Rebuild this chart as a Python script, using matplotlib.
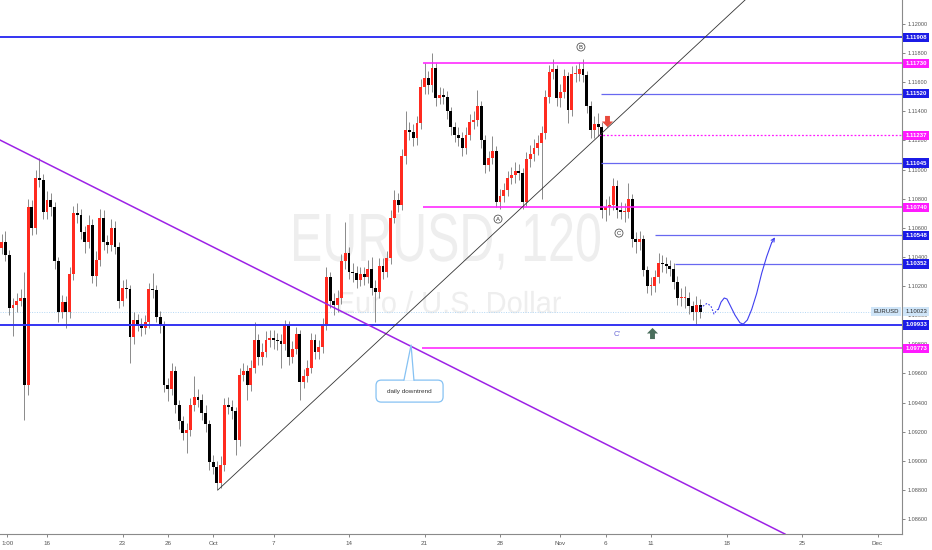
import matplotlib
matplotlib.use('Agg')
import matplotlib.pyplot as plt
import matplotlib.transforms as mtransforms
from matplotlib.patches import Rectangle, Polygon, FancyBboxPatch, PathPatch
from matplotlib.textpath import TextPath
from matplotlib.font_manager import FontProperties
from matplotlib.path import Path
from matplotlib.transforms import Affine2D

plt.rcParams['font.family'] = ['Liberation Sans', 'DejaVu Sans']

# ---------------- data (EURUSD, 120) ----------------
first_open = 1.1046
closes = [
    1.1050, 1.1041, 1.1005, 1.1007, 1.1010, 1.1012, 1.0952, 1.1074, 1.1060, 1.1094,
    1.1093, 1.1071, 1.1079, 1.1074, 1.1037, 1.1002, 1.1009, 1.1002, 1.1028, 1.1070,
    1.1069, 1.1057, 1.1050, 1.1062, 1.1027, 1.1038, 1.1067, 1.1050, 1.1048, 1.1060,
    1.1047, 1.1010, 1.1019, 1.1018, 1.0985, 1.0997, 1.0994, 1.0991, 1.0995, 1.1018,
    1.1017, 1.0999, 1.0993, 1.0952, 1.0949, 1.0962, 1.0938, 1.0927, 1.0919, 1.0921,
    1.0938, 1.0944, 1.0942, 1.0933, 1.0925, 1.0899, 1.0896, 1.0885, 1.0897, 1.0938,
    1.0937, 1.0934, 1.0914, 1.0959, 1.0962, 1.0952, 1.0964, 1.0983, 1.0971, 1.0975,
    1.0983, 1.0984, 1.0983, 1.0982, 1.0980, 1.0993, 1.0971, 1.0977, 1.0987, 1.0954,
    1.0958, 1.0964, 1.0983, 1.0975, 1.0978, 1.0993, 1.1026, 1.1010, 1.1007, 1.1012,
    1.1037, 1.1043, 1.1030, 1.1029, 1.1024, 1.1028, 1.1026, 1.1032, 1.1019, 1.1016,
    1.1034, 1.1030, 1.1039, 1.1067, 1.1079, 1.1076, 1.1109, 1.1127, 1.1126, 1.1122,
    1.1132, 1.1157, 1.1163, 1.1158, 1.1170, 1.1149, 1.1151, 1.1150, 1.1140, 1.1129,
    1.1124, 1.1122, 1.1115, 1.1124, 1.1133, 1.1134, 1.1144, 1.1120, 1.1103, 1.1108,
    1.1113, 1.1078, 1.1082, 1.1086, 1.1094, 1.1096, 1.1099, 1.1098, 1.1078, 1.1107,
    1.1111, 1.1115, 1.1118, 1.1125, 1.1150, 1.1167, 1.1169, 1.1149, 1.1153, 1.1164,
    1.1141, 1.1166, 1.1166, 1.1169, 1.1165, 1.1144, 1.1127, 1.1131, 1.1129, 1.1072,
    1.1074, 1.1076, 1.1089, 1.1072, 1.1071, 1.1071, 1.1080, 1.1052, 1.1050, 1.1052,
    1.1031, 1.1020, 1.1020, 1.1026, 1.1036, 1.1035, 1.1034, 1.1032, 1.1023, 1.1012,
    1.1012, 1.1012, 1.1006, 1.1002, 1.1007, 1.10023]
highs = [
    1.1056, 1.1058, 1.1045, 1.1012, 1.1015, 1.1018, 1.1030, 1.1080, 1.1079, 1.1100,
    1.1108, 1.1097, 1.1085, 1.1084, 1.1078, 1.1040, 1.1014, 1.1013, 1.1033, 1.1075,
    1.1077, 1.1073, 1.1061, 1.1069, 1.1066, 1.1044, 1.1073, 1.1072, 1.1055, 1.1066,
    1.1065, 1.1050, 1.1024, 1.1025, 1.1021, 1.1002, 1.1001, 1.0998, 1.1000, 1.1022,
    1.1029, 1.1021, 1.1003, 1.0996, 1.0957, 1.0967, 1.0965, 1.0942, 1.0931, 1.0926,
    1.0943, 1.0958, 1.0949, 1.0946, 1.0938, 1.0928, 1.0904, 1.0900, 1.0903, 1.0943,
    1.0944, 1.0942, 1.0937, 1.0964, 1.0967, 1.0966, 1.0969, 1.0995, 1.0987, 1.0981,
    1.0989, 1.0990, 1.0990, 1.0988, 1.0987, 1.0997, 1.0996, 1.0982, 1.0992, 1.0990,
    1.0963, 1.0969, 1.0988, 1.0987, 1.0983, 1.0998, 1.1033, 1.1030, 1.1015, 1.1017,
    1.1042, 1.1064, 1.1047, 1.1036, 1.1034, 1.1033, 1.1033, 1.1038, 1.1040, 1.1024,
    1.1039, 1.1039, 1.1044, 1.1072, 1.1086, 1.1084, 1.1114, 1.1140, 1.1133, 1.1131,
    1.1137, 1.1162, 1.1173, 1.1168, 1.1180, 1.1173, 1.1157, 1.1156, 1.1154, 1.1143,
    1.1133, 1.1129, 1.1126, 1.1129, 1.1138, 1.1140, 1.1155, 1.1147, 1.1124, 1.1113,
    1.1123, 1.1116, 1.1087, 1.1091, 1.1099, 1.1102, 1.1105, 1.1104, 1.1101, 1.1112,
    1.1117, 1.1121, 1.1124, 1.1130, 1.1155, 1.1172, 1.1176, 1.1172, 1.1159, 1.1169,
    1.1167, 1.1171, 1.1172, 1.1174, 1.1176, 1.1168, 1.1147, 1.1137, 1.1139, 1.1133,
    1.1080, 1.1082, 1.1094, 1.1093, 1.1078, 1.1077, 1.1091, 1.1083, 1.1057, 1.1058,
    1.1055, 1.1034, 1.1026, 1.1031, 1.1043, 1.1041, 1.1040, 1.1038, 1.1036, 1.1027,
    1.1019, 1.1020, 1.1016, 1.1010, 1.1013, 1.1011]
lows = [
    1.1042, 1.1037, 1.1000, 1.0986, 1.1002, 1.1006, 1.0928, 1.0945, 1.1055, 1.1056,
    1.1088, 1.1066, 1.1066, 1.1068, 1.1032, 1.0995, 1.0998, 1.0991, 1.0998, 1.1024,
    1.1063, 1.1052, 1.1043, 1.1046, 1.1022, 1.1020, 1.1034, 1.1045, 1.1043, 1.1044,
    1.1042, 1.1005, 1.1006, 1.1012, 1.0967, 1.0980, 1.0989, 1.0986, 1.0987, 1.0991,
    1.1012, 1.0995, 1.0988, 1.0947, 1.0941, 1.0945, 1.0933, 1.0922, 1.0914, 1.0905,
    1.0917, 1.0934, 1.0937, 1.0928, 1.0920, 1.0894, 1.0891, 1.0880, 1.0881, 1.0893,
    1.0932, 1.0929, 1.0904, 1.0910, 1.0955, 1.0942, 1.0948, 1.0960, 1.0966, 1.0966,
    1.0971, 1.0978, 1.0977, 1.0976, 1.0964, 1.0976, 1.0966, 1.0967, 1.0973, 1.0942,
    1.0950, 1.0954, 1.0960, 1.0970, 1.0970, 1.0974, 1.0990, 1.1005, 1.1000, 1.1002,
    1.1008, 1.1032, 1.1025, 1.1023, 1.1019, 1.1020, 1.1021, 1.1022, 1.1014, 1.0995,
    1.1012, 1.1025, 1.1026, 1.1035, 1.1063, 1.1071, 1.1072, 1.1104, 1.1120, 1.1116,
    1.1117, 1.1128, 1.1152, 1.1152, 1.1153, 1.1144, 1.1145, 1.1145, 1.1135, 1.1124,
    1.1119, 1.1116, 1.1109, 1.1111, 1.1120, 1.1128, 1.1130, 1.1115, 1.1098, 1.1099,
    1.1104, 1.1074, 1.1073, 1.1078, 1.1082, 1.1090, 1.1091, 1.1093, 1.1073, 1.1075,
    1.1102, 1.1106, 1.1110, 1.1080, 1.1121, 1.1146, 1.1162, 1.1144, 1.1143, 1.1149,
    1.1132, 1.1137, 1.1160, 1.1161, 1.1160, 1.1139, 1.1122, 1.1122, 1.1123, 1.1067,
    1.1065, 1.1069, 1.1072, 1.1067, 1.1066, 1.1064, 1.1067, 1.1047, 1.1043, 1.1045,
    1.1027, 1.1015, 1.1014, 1.1016, 1.1022, 1.1030, 1.1029, 1.1027, 1.1018, 1.1007,
    1.1006, 1.1005, 1.1001, 1.0997, 1.0993, 1.0998]
start_day = -3.0     # trading-day index of first candle (0 = Sep 16)
bar_days = 0.25      # each drawn candle spans a quarter trading day

tick_days = [-2.62, 0, 5, 8, 11, 15, 20, 25, 30, 34, 37, 40, 45, 50, 55]
tick_labels = ['1:00', '16', '23', '26', 'Oct', '7', '14', '21', '28', 'Nov',
               '6', '11', '18', '25', 'Dec']
price_ticks = [1.086, 1.088, 1.090, 1.092, 1.094, 1.096, 1.098, 1.100, 1.102,
               1.104, 1.106, 1.108, 1.110, 1.112, 1.114, 1.116, 1.118, 1.120]

level_prices = [1.11908, 1.11730, 1.11520, 1.11237, 1.11045, 1.10740, 1.10548,
                1.10352, 1.09933, 1.09773]
level_start = [None, 24.88, 36.69, 36.56, 36.69, 24.88, 40.26, 41.59, None, 24.81]
level_kind = ['bmain', 'mag', 'blue', 'magdot', 'blue', 'mag', 'blue', 'blue',
              'bmain', 'mag']
last_price = 1.10023

downtrend_d = [-3.1126, 48.87]
downtrend_p = [1.11203, 1.08497]
uptrend_d = [11.32, 46.23]
uptrend_p = [1.0880, 1.12165]

proj_dot_d = [43.25, 43.71, 43.97, 44.17, 44.37, 44.46]
proj_dot_p = [1.10049, 1.10081, 1.10063, 1.10008, 1.10036, 1.10040]
proj_d = [44.46, 44.64, 44.85, 45.03, 45.23, 45.56, 45.89, 46.11, 46.38, 46.67,
          47.00, 47.33, 47.66, 47.99]
proj_p = [1.10040, 1.10090, 1.10118, 1.10111, 1.10070, 1.10001, 1.09948, 1.09939,
          1.09967, 1.10040, 1.10150, 1.10288, 1.10402, 1.10498]
proj_tip = (48.21, 1.10535)

# ---------------- figure ----------------
W, H = 932, 550
fig = plt.figure(figsize=(W / 100, H / 100), dpi=100)
fig.patch.set_facecolor('white')
ax = fig.add_axes([0, 16 / H, 902 / W, 534 / H])
ax.set_xlim(-3.1126, 56.6225)
ax.set_ylim(1.08497, 1.121649)
ax.set_facecolor('white')


def watermark(text, left_px, right_px, top_px, base_px, color):
    fp = FontProperties(family='Liberation Sans')
    tp = TextPath((0, 0), text, size=100, prop=fp)
    cap = TextPath((0, 0), 'E', size=100, prop=fp).get_extents()
    ext = tp.get_extents()
    sx = (right_px - left_px) / ext.width
    sy = (base_px - top_px) / cap.y1
    tr = (Affine2D().translate(-ext.x0, 0).scale(sx, sy)
          .translate(left_px, H - base_px).scale(1.0 / W, 1.0 / H) + fig.transFigure)
    ax.add_patch(PathPatch(tp, fc=color, ec='none', transform=tr, zorder=0.5))


watermark('EURUSD, 120', 294, 600, 214, 261, '#eeeeee')
watermark('Euro / U.S. Dollar', 338, 561, 292, 313, '#eeeeee')

# candles
n = min(len(closes), len(highs), len(lows))
opens = [first_open] + closes[:n - 1]
xs = [start_day + bar_days * i for i in range(n)]
wl, wh = [], []
for i in range(n):
    o, c = opens[i], closes[i]
    wl.append(min(lows[i], o, c))
    wh.append(max(highs[i], o, c))
ax.vlines(xs, wl, wh, colors='#8a8a8a', lw=0.7, zorder=2)
bw = 0.19
for i in range(n):
    o, c = opens[i], closes[i]
    col = '#ff2a1f' if c >= o else '#000000'
    h = max(abs(c - o), 0.00004)
    ax.add_patch(Rectangle((xs[i] - bw / 2, min(o, c)), bw, h, fc=col, ec='none',
                           zorder=3))

# horizontal levels
xmin, xmax = ax.get_xlim()
styles = {
    'bmain': dict(color='#3434f2', lw=1.4, ls='-'),
    'blue': dict(color='#6868f0', lw=0.9, ls='-'),
    'mag': dict(color='#ff1aff', lw=1.1, ls='-'),
    'magdot': dict(color='#ff1aff', lw=0.9, ls=(0, (1.5, 1.5))),
}
for p, s, k in zip(level_prices, level_start, level_kind):
    x0 = xmin if s is None else s
    ax.plot([x0, xmax], [p, p], zorder=5, solid_capstyle='butt', **styles[k])
ax.plot([xmin, xmax], [last_price, last_price], color='#b5d8f5', lw=0.7,
        ls=(0, (1, 1.5)), zorder=1.5)

# trend lines
ax.plot(downtrend_d, downtrend_p, color='#9d22e6', lw=1.1, zorder=5)
ax.plot(uptrend_d, uptrend_p, color='#333333', lw=0.6, zorder=5)

# projection
ax.plot(proj_dot_d, proj_dot_p, color='#3f3ff0', lw=0.8, ls=(0, (1.5, 1.5)), zorder=6)
ax.plot(proj_d, proj_p, color='#3f3ff0', lw=0.8, zorder=6)
ax.annotate('', xy=proj_tip, xytext=(proj_d[-1], proj_p[-1]),
            arrowprops=dict(arrowstyle='->', color='#3f3ff0', lw=0.8,
                            mutation_scale=6, shrinkA=0, shrinkB=0), zorder=6)

# circled wave labels
for lab, d, p in [('A', 29.87, 1.10660), ('B', 35.36, 1.11842), ('C', 37.88, 1.10564)]:
    ax.text(d, p, lab, fontsize=4.3, color='#333333', ha='center', va='center',
            zorder=7, bbox=dict(boxstyle='circle,pad=0.25', fc='white', ec='#555555',
                                lw=0.6))
ax.text(37.75, 1.09870, "C'", fontsize=5.5, color='#6a6ad6', ha='center',
        va='center', zorder=7)

# arrows
down_arrow = Path([(-0.22, 0.5), (0.22, 0.5), (0.22, 0.0), (0.5, 0.0), (0, -0.5),
                   (-0.5, 0.0), (-0.22, 0.0), (-0.22, 0.5)], closed=True)
up_arrow = Path([(-0.22, -0.5), (0.22, -0.5), (0.22, 0.0), (0.5, 0.0), (0, 0.5),
                 (-0.5, 0.0), (-0.22, 0.0), (-0.22, -0.5)], closed=True)
ax.plot([37.09], [1.11334], marker=down_arrow, markersize=8, color='#e84a3c',
        mec='none', zorder=7)
ax.plot([40.07], [1.09877], marker=up_arrow, markersize=8, color='#4a6e5c',
        mec='none', zorder=7)

# callout "daily downtrend"
bx0, bx1 = 21.79, 26.23
by0, by1 = 1.09403, 1.09554
asp = (1 / 14558) / (1 / 15.1)
box = FancyBboxPatch((bx0, by0), bx1 - bx0, by1 - by0,
                     boxstyle='round,pad=0,rounding_size=0.35', mutation_aspect=asp,
                     fc='white', ec='#86c2f3', lw=0.9, zorder=8)
ax.add_patch(box)
ptr = Polygon([(23.64, 1.09550), (24.11, 1.09795), (24.30, 1.09550)], closed=True,
              fc='white', ec='none', zorder=8.5)
ax.add_patch(ptr)
ax.plot([23.64, 24.11, 24.30], [1.09554, 1.09795, 1.09554], color='#86c2f3', lw=0.9,
        zorder=8.6)
ax.text((bx0 + bx1) / 2, (by0 + by1) / 2, 'daily downtrend', fontsize=4.6,
        color='#333333', ha='center', va='center', zorder=9)

# axes styling
for sp in ['left', 'top']:
    ax.spines[sp].set_visible(False)
for sp in ['right', 'bottom']:
    ax.spines[sp].set_color('#8a8a8a')
    ax.spines[sp].set_linewidth(0.8)
ax.yaxis.tick_right()
ax.set_yticks(price_ticks)
ax.set_yticklabels(['%.5f' % v for v in price_ticks])
ax.set_xticks(tick_days)
ax.set_xticklabels(tick_labels)
ax.tick_params(axis='y', labelsize=4, colors='#555555', length=2, width=0.5, pad=2)
ax.tick_params(axis='x', labelsize=4.5, colors='#555555', length=2, width=0.5, pad=3)

# price labels on the axis
trans = mtransforms.blended_transform_factory(ax.transAxes, ax.transData)
box_cols = {'bmain': '#1b1be6', 'blue': '#1b1be6', 'mag': '#ff1aff', 'magdot': '#ff1aff'}
for p, k in zip(level_prices, level_kind):
    ax.text(1.0 + 3.5 / 902, p, '%.5f' % p, transform=trans, fontsize=4.3,
            fontweight='bold', color='white', ha='left', va='center', clip_on=False,
            zorder=20, bbox=dict(boxstyle='square,pad=0.35', fc=box_cols[k], ec='none'))
ax.text(1.0 + 3.5 / 902, last_price, '%.5f' % last_price, transform=trans,
        fontsize=4.3, color='#2a2a2a', ha='left', va='center', clip_on=False,
        zorder=21, bbox=dict(boxstyle='square,pad=0.35', fc='#cfe5f8', ec='none'))
ax.text(1.0 - 3.5 / 902, last_price, 'EURUSD', transform=trans, fontsize=4.3,
        color='#2a2a2a', ha='right', va='center', clip_on=False, zorder=21,
        bbox=dict(boxstyle='square,pad=0.35', fc='#cfe5f8', ec='none'))

fig.savefig('out.png', dpi=100, facecolor='white')
